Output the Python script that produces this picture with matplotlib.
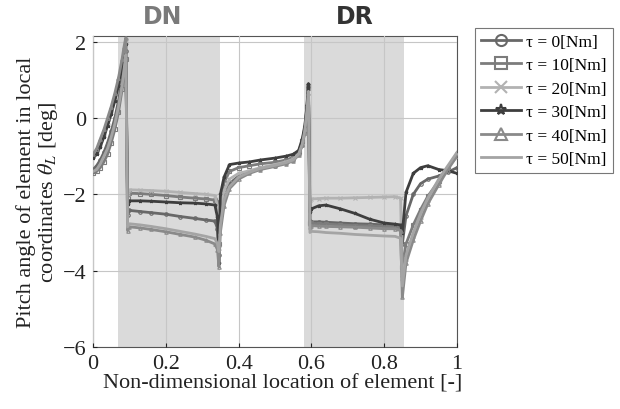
import matplotlib
matplotlib.use("Agg")
import matplotlib.pyplot as plt
from matplotlib.lines import Line2D

# ---- data ----
x = [0.0, 0.01, 0.02, 0.03, 0.04, 0.05, 0.06, 0.07, 0.08, 0.085, 0.09,
     0.095, 0.1, 0.13, 0.16, 0.2, 0.24, 0.28, 0.31, 0.335, 0.342,
     0.346, 0.35, 0.36, 0.375, 0.4, 0.43, 0.46, 0.5, 0.53, 0.55,
     0.565, 0.575, 0.582, 0.588, 0.592,
     0.596, 0.6, 0.62, 0.64, 0.68, 0.72, 0.76, 0.8, 0.83, 0.845,
     0.85, 0.86, 0.88, 0.9, 0.92, 0.95, 0.975, 1.0]

tau0 = [-1.35, -1.25, -1.1, -0.9, -0.65, -0.35, 0.0, 0.45, 1.0, 1.35, 1.75,
        -2.55, -2.42, -2.45, -2.48, -2.52, -2.58, -2.63, -2.67, -2.7, -2.9,
        -3.6, -2.6, -2.05, -1.72, -1.52, -1.42, -1.33, -1.25, -1.18, -1.1,
        -0.95, -0.7, -0.35, 0.2, 0.75,
        -2.7, -2.72, -2.72, -2.73, -2.75, -2.77, -2.78, -2.8, -2.8, -2.85,
        -3.3, -2.56, -2.0, -1.72, -1.6, -1.52, -1.42, -1.3]
tau10 = [-1.45, -1.4, -1.3, -1.15, -0.95, -0.65, -0.3, 0.15, 0.75, 1.15, 1.55,
         -2.1, -1.97, -1.98, -2.0, -2.03, -2.07, -2.1, -2.12, -2.15, -2.4,
         -3.3, -2.2, -1.7, -1.4, -1.3, -1.25, -1.2, -1.16, -1.1, -1.03,
         -0.88, -0.6, -0.25, 0.3, 0.85,
         -2.75, -2.76, -2.77, -2.78, -2.8, -2.82, -2.83, -2.84, -2.85, -2.88,
         -3.9, -3.3, -2.8, -2.4, -2.05, -1.65, -1.3, -1.0]
tau20 = [-1.0, -0.85, -0.65, -0.4, -0.1, 0.2, 0.55, 0.95, 1.45, 1.75, 2.05,
         -2.0, -1.88, -1.89, -1.9, -1.92, -1.95, -1.98, -2.0, -2.03, -2.3,
         -3.4, -2.4, -1.9, -1.6, -1.45, -1.38, -1.3, -1.22, -1.15, -1.08,
         -0.92, -0.65, -0.3, 0.25, 0.8,
         -2.15, -2.12, -2.11, -2.1, -2.1, -2.09, -2.08, -2.07, -2.06, -2.1,
         -4.2, -3.7, -3.1, -2.6, -2.15, -1.7, -1.3, -0.95]
tau30 = [-1.05, -0.95, -0.75, -0.5, -0.2, 0.1, 0.45, 0.85, 1.35, 1.65, 1.95,
         -2.25, -2.17, -2.17, -2.18, -2.2, -2.22, -2.23, -2.25, -2.28, -2.6,
         -3.8, -2.0, -1.55, -1.22, -1.18, -1.15, -1.1, -1.05, -1.0, -0.95,
         -0.85, -0.55, -0.2, 0.35, 0.9,
         -2.45, -2.38, -2.3, -2.28, -2.38, -2.5, -2.65, -2.75, -2.78, -2.8,
         -3.0, -1.95, -1.45, -1.3, -1.25, -1.35, -1.38, -1.45]
tau40 = [-0.95, -0.8, -0.55, -0.3, 0.0, 0.3, 0.65, 1.05, 1.55, 1.85, 2.1,
         -2.95, -2.85, -2.88, -2.92, -2.98, -3.05, -3.12, -3.2, -3.3, -3.45,
         -3.9, -3.0, -2.3, -1.85, -1.6, -1.45, -1.35, -1.27, -1.2, -1.12,
         -0.97, -0.72, -0.38, 0.15, 0.65,
         -2.85, -2.82, -2.83, -2.84, -2.85, -2.86, -2.88, -2.9, -2.9, -2.95,
         -4.7, -3.8, -3.2, -2.7, -2.25, -1.75, -1.35, -1.0]
tau50 = [-1.4, -1.35, -1.2, -1.0, -0.8, -0.5, -0.15, 0.3, 0.85, 1.25, 1.65,
         -2.85, -2.77, -2.8, -2.84, -2.9, -2.97, -3.04, -3.1, -3.16, -3.3,
         -3.5, -2.8, -2.15, -1.8, -1.55, -1.42, -1.32, -1.24, -1.17, -1.1,
         -0.95, -0.68, -0.32, 0.2, 0.7,
         -3.0, -2.97, -2.98, -3.0, -3.02, -3.05, -3.07, -3.09, -3.1, -3.15,
         -4.4, -3.6, -3.0, -2.5, -2.1, -1.6, -1.25, -0.9]

series = [tau0, tau10, tau20, tau30, tau40, tau50]
labels = ["τ = 0[Nm]", "τ = 10[Nm]", "τ = 20[Nm]", "τ = 30[Nm]", "τ = 40[Nm]", "τ = 50[Nm]"]
colors = ["#686868", "#7c7c7c", "#b2b2b2", "#3e3e3e", "#8a8a8a", "#a4a4a4"]
markers = ["o", "s", "x", "*", "^", None]

regions = [(0.07, 0.35, "DN", "#7a7a7a"), (0.58, 0.855, "DR", "#333333")]
label_x = [0.19, 0.718]
xticks = [0, 0.2, 0.4, 0.6, 0.8, 1]
xticklabels = ["0", "0.2", "0.4", "0.6", "0.8", "1"]
yticks = [-6, -4, -2, 0, 2]

serif = ["Liberation Serif", "DejaVu Serif"]
plt.rcParams["font.family"] = serif
plt.rcParams["mathtext.fontset"] = "stix"

fig = plt.figure(figsize=(6.2, 4.1), dpi=100)
ax = fig.add_axes([0.15, 0.151, 0.587, 0.759])

for (x0, x1, name, c), lx in zip(regions, label_x):
    ax.axvspan(x0, x1, color="#dadada", zorder=0, lw=0)
    ax.text(lx, 1.025, name, transform=ax.get_xaxis_transform(),
            ha="center", va="bottom", fontsize=17, fontweight="bold",
            color=c, family=["DejaVu Sans"])

for s, c, m in zip(series, colors, markers):
    ax.plot(x, s, color=c, lw=2.0, marker=m, ms=2.5, mew=0.8,
            fillstyle="none", zorder=3)

ax.set_xlim(0, 1)
ax.set_ylim(-6, 2.15)
ax.set_xticks(xticks)
ax.set_xticklabels(xticklabels)
ax.set_yticks(yticks)
ax.grid(True, color="#c6c6c6", lw=0.8, zorder=1)
ax.set_axisbelow(False)
ax.tick_params(direction="in", length=3, labelsize=16, colors="#222222", pad=5)
for sp in ax.spines.values():
    sp.set_color("#555555")
    sp.set_linewidth(0.8)

ax.set_xlabel("Non-dimensional location of element [-]", fontsize=16, color="#222222", labelpad=1)
ax.xaxis.set_label_coords(0.52, -0.085)
ax.set_ylabel("Pitch angle of element in local\ncoordinates $\\theta_L$ [deg]",
              fontsize=16, color="#222222", labelpad=2, linespacing=1.0)

handles = [Line2D([], [], color=c, lw=2.0, marker=m, ms=8, mew=1.5, fillstyle="none")
           for c, m in zip(colors, markers)]
leg = fig.legend(handles, labels, loc="upper left", bbox_to_anchor=(0.766, 0.93),
                 fontsize=12.5, frameon=True, fancybox=False, edgecolor="#555555",
                 handlelength=2.3, handletextpad=0.3, labelspacing=0.42,
                 borderpad=0.35, borderaxespad=0)
leg.get_frame().set_linewidth(0.8)

fig.savefig("out.png", dpi=100)
